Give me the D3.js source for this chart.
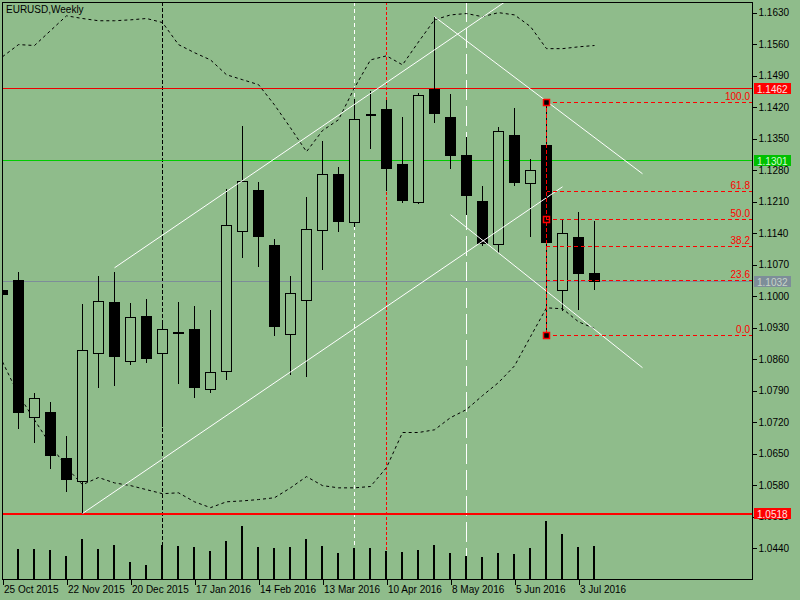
<!DOCTYPE html>
<html><head><meta charset="utf-8">
<script src="https://cdn.jsdelivr.net/npm/d3@7"></script>
<style>html,body{margin:0;padding:0;background:#8FBC8B;} svg{display:block;}</style>
</head><body>
<svg id="c" width="800" height="600"></svg>
<script>
// ---------------- DATA ----------------
const symbolTitle = "EURUSD,Weekly";
const dates = ["2015-10-25","2015-11-01","2015-11-08","2015-11-15","2015-11-22","2015-11-29",
  "2015-12-06","2015-12-13","2015-12-20","2015-12-27","2016-01-03","2016-01-10","2016-01-17",
  "2016-01-24","2016-01-31","2016-02-07","2016-02-14","2016-02-21","2016-02-28","2016-03-06",
  "2016-03-13","2016-03-20","2016-03-27","2016-04-03","2016-04-10","2016-04-17","2016-04-24",
  "2016-05-01","2016-05-08","2016-05-15","2016-05-22","2016-05-29","2016-06-05","2016-06-12",
  "2016-06-19","2016-06-26","2016-07-03","2016-07-10"];
const open  = [1.1012,1.1036,1.0730,1.0742,1.0639,1.0589,1.0873,1.0985,1.0854,1.0955,1.0873,1.0919,1.0926,
  1.0793,1.0832,1.1143,1.1236,1.1113,1.0915,1.0991,1.1146,1.1271,1.1164,1.1402,1.1416,1.1292,1.1209,
  1.1460,1.1397,1.1313,1.1211,1.1115,1.1358,1.1250,1.1336,1.1013,1.1130,1.1051];
const high  = [1.1096,1.1053,1.0784,1.0764,1.0689,1.0982,1.1044,1.1053,1.0984,1.0993,1.0947,1.0986,1.0978,
  1.0969,1.1238,1.1378,1.1253,1.1127,1.1044,1.1219,1.1344,1.1286,1.1438,1.1456,1.1435,1.1398,1.1450,
  1.1619,1.1448,1.1352,1.1244,1.1374,1.1418,1.1304,1.1430,1.1170,1.1186,1.1167];
const low   = [1.0897,1.0707,1.0675,1.0616,1.0565,1.0516,1.0797,1.0802,1.0848,1.0852,1.0711,1.0806,1.0776,
  1.0787,1.0815,1.1087,1.1067,1.0912,1.0826,1.0821,1.1059,1.1143,1.1154,1.1328,1.1235,1.1209,1.1206,
  1.1385,1.1284,1.1182,1.1112,1.1098,1.1245,1.1132,1.0913,1.0969,1.0971,1.1016];
const close = [1.1003,1.0741,1.0773,1.0645,1.0593,1.0879,1.0988,1.0867,1.0953,1.0861,1.0926,1.0917,1.0797,
  1.0830,1.1157,1.1256,1.1132,1.0932,1.1006,1.1148,1.1271,1.1167,1.1393,1.1401,1.1283,1.1213,1.1446,
  1.1406,1.1313,1.1223,1.1117,1.1367,1.1252,1.1279,1.1119,1.1139,1.1050,1.1032];
const volume = [31000,30000,30000,29000,23000,40000,30000,34000,17000,14000,34000,33000,32000,28000,38000,
  53000,32000,31000,32000,40000,33000,26000,31000,31000,28000,27000,29000,34000,26000,23000,22000,26000,
  25000,31000,58000,45000,32000,33000];
const bbUpper = [1.1531,1.1558,1.1556,1.1589,1.1622,1.1616,1.1611,1.1611,1.1613,1.1616,1.1607,1.1558,1.1540,
  1.1524,1.1491,1.1480,1.1469,1.1424,1.1373,1.1320,1.1367,1.1391,1.1462,1.1524,1.1533,1.1513,1.1564,
  1.1613,1.1624,1.1627,1.1620,1.1629,1.1624,1.1598,1.1549,1.1549,1.1553,1.1556];
const bbLower = [1.0853,1.0780,1.0724,1.0669,1.0618,1.0580,1.0596,1.0584,1.0578,1.0569,1.0560,1.0562,1.0542,
  1.0529,1.0542,1.0544,1.0547,1.0551,1.0573,1.0598,1.0578,1.0573,1.0573,1.0576,1.0618,1.0696,1.0696,
  1.0702,1.0729,1.0747,1.0778,1.0807,1.0844,1.0909,1.0973,1.0971,1.0942,1.0927];
const priceTicks = [1.1630,1.1560,1.1490,1.1420,1.1350,1.1280,1.1210,1.1140,1.1070,1.1000,1.0930,1.0860,
  1.0790,1.0720,1.0650,1.0580,1.0510,1.0440];
const dateTicks = ["2015-10-25","2015-11-22","2015-12-20","2016-01-17","2016-02-14","2016-03-13",
  "2016-04-10","2016-05-08","2016-06-05","2016-07-03"];
const resistanceLevels = [1.1462];
const supportLevels = [1.0518];
const pivotLevels = [1.1301];
const currentPrice = 1.1032;
const vLineBlack = ["2016-01-03"];
const vLineWhiteShort = ["2016-03-27"];
const vLineRed = ["2016-04-10"];
const vLineWhiteLong = ["2016-05-15"];
const channelBase = [["2015-11-29",1.0516],["2016-06-26",1.1242]];
const channelTop  = [["2015-12-13",1.1062],["2016-06-26",1.1740]];
const downTop     = [["2016-05-01",1.1620],["2016-07-31",1.1271]];
const downBottom  = [["2016-05-08",1.1180],["2016-07-31",1.0840]];
const fibDate = "2016-06-19";
const fibHigh = 1.1430, fibLow = 1.0913;
const fibLevels = [0, 23.6, 38.2, 50, 61.8, 100];

// ---------------- CHART ----------------
const BG = "#8FBC8B";
const parse = d3.utcParse("%Y-%m-%d");
const svg = d3.select("#c");
svg.append("rect").attr("width",800).attr("height",600).attr("fill",BG);

const L = 2, R = 752, T = 2, B = 579;
const t0 = Date.UTC(2015,9,25);
const WEEK = 7*86400000;
const x = d3.scaleUtc().domain([new Date(t0), new Date(t0 + 46.875*WEEK)]).range([L, R]);
const y = d3.scaleLinear().domain([1.1630 - (B-12.2)/4500, 1.1630 + (12.2-T)/4500]).range([B, T]);
const yv = d3.scaleLinear().domain([0, 58000]).range([B, B-58]);

svg.append("defs").append("clipPath").attr("id","plot")
  .append("rect").attr("x",L+1).attr("y",T+1).attr("width",R-L-1).attr("height",B-T-1);
const g = svg.append("g").attr("clip-path","url(#plot)");
const px = d => Math.round(x(parse(d)));
const py = p => Math.round(y(p));

// vertical lines
function vline(arr, color, dash){
  g.selectAll(null).data(arr).enter().append("line")
    .attr("x1",d=>px(d)+0.5).attr("x2",d=>px(d)+0.5).attr("y1",T).attr("y2",B)
    .attr("stroke",color).attr("stroke-width",1).attr("stroke-dasharray",dash)
    .attr("shape-rendering","crispEdges");
}
vline(vLineBlack,"#000","4,2");
vline(vLineWhiteShort,"#fff","4,3");
vline(vLineRed,"#ff0000","3,2");
vline(vLineWhiteLong,"#fff","20,6");

// horizontal lines
function hline(arr, color, w){
  g.selectAll(null).data(arr).enter().append("line")
    .attr("x1",L).attr("x2",R).attr("y1",d=>py(d)+0.5).attr("y2",d=>py(d)+0.5)
    .attr("stroke",color).attr("stroke-width",w).attr("shape-rendering","crispEdges");
}
hline([currentPrice],"#7d8d99",1);
hline(pivotLevels,"#00cc00",1);
hline(resistanceLevels,"#ee0000",1);
hline(supportLevels,"#ff0000",2);

// bands
const bandLine = d3.line().x((d,i)=>px(dates[i])+0.5).y(d=>y(d));
[bbUpper,bbLower].forEach(arr=>{
  g.append("path").attr("d",bandLine(arr)).attr("fill","none")
    .attr("stroke","#000").attr("stroke-width",1).attr("stroke-dasharray","3,3");
});

// volumes
g.selectAll(null).data(volume).enter().append("rect")
  .attr("x",(d,i)=>px(dates[i])-1).attr("width",2)
  .attr("y",d=>Math.round(yv(d))).attr("height",d=>B-Math.round(yv(d)))
  .attr("fill","#000").attr("shape-rendering","crispEdges");

// candles
const cg = g.append("g").attr("shape-rendering","crispEdges");
dates.forEach((d,i)=>{
  const c = px(d);
  const o = open[i], cl = close[i];
  cg.append("line").attr("x1",c+0.5).attr("x2",c+0.5)
    .attr("y1",py(high[i])).attr("y2",py(low[i])+1).attr("stroke","#000");
  const top = py(Math.max(o,cl)), bot = py(Math.min(o,cl));
  if (bot - top < 1) {
    cg.append("rect").attr("x",c-4).attr("y",top-1).attr("width",10).attr("height",2).attr("fill","#000");
  } else {
    cg.append("rect").attr("x",c-4.5).attr("y",top+0.5).attr("width",10).attr("height",bot-top)
      .attr("fill", cl < o ? "#000" : BG).attr("stroke","#000").attr("stroke-width",1);
  }
});

// trend lines
[channelBase,channelTop,downTop,downBottom].forEach(seg=>{
  g.append("line")
    .attr("x1",x(parse(seg[0][0]))+0.5).attr("y1",y(seg[0][1]))
    .attr("x2",x(parse(seg[1][0]))+0.5).attr("y2",y(seg[1][1]))
    .attr("stroke","#fff").attr("stroke-width",1);
});

// fibonacci
const fx = px(fibDate);
const fibG = g.append("g");
fibLevels.forEach(lv=>{
  const p = fibLow + (fibHigh-fibLow)*lv/100;
  const yy = py(p)+0.5;
  fibG.append("line").attr("x1",fx).attr("x2",R).attr("y1",yy).attr("y2",yy)
    .attr("stroke","#ff0000").attr("stroke-dasharray","4,3").attr("shape-rendering","crispEdges");
  fibG.append("text").attr("x",R-2).attr("y",yy-3).attr("text-anchor","end")
    .attr("font-family","Liberation Sans, Arial, sans-serif").attr("font-size",10)
    .attr("fill","#ff0000").text(lv.toFixed(1));
});
fibG.append("line").attr("x1",fx+0.5).attr("x2",fx+0.5).attr("y1",py(fibHigh)).attr("y2",py(fibLow))
  .attr("stroke","#000").attr("shape-rendering","crispEdges");
fibG.append("line").attr("x1",fx+0.5).attr("x2",fx+0.5).attr("y1",py(fibHigh)).attr("y2",py(fibLow))
  .attr("stroke","#ff0000").attr("stroke-dasharray","4,2").attr("shape-rendering","crispEdges");
[fibHigh,fibLow].forEach(p=>{
  fibG.append("rect").attr("x",fx-2.5).attr("y",py(p)-2.5).attr("width",6).attr("height",6)
    .attr("fill","#000").attr("stroke","#ff0000").attr("stroke-width",1.5);
});
fibG.append("rect").attr("x",fx-2.5).attr("y",py((fibHigh+fibLow)/2)-2.5).attr("width",6).attr("height",6)
  .attr("fill","none").attr("stroke","#ff0000").attr("stroke-width",1.5);

// frame
svg.append("rect").attr("x",L+0.5).attr("y",T+0.5).attr("width",R-L).attr("height",B-T)
  .attr("fill","none").attr("stroke","#000").attr("shape-rendering","crispEdges");

// axes
const FONT = "Liberation Sans, Arial, sans-serif";
const ya = svg.append("g").attr("transform",`translate(${R+0.5},0.5)`)
  .call(d3.axisRight(y).tickValues(priceTicks).tickSize(4).tickPadding(2).tickFormat(d3.format(".4f")));
ya.select(".domain").remove();
ya.selectAll("line").attr("stroke","#000").attr("shape-rendering","crispEdges");
ya.selectAll("text").attr("font-family",FONT).attr("font-size",10).attr("fill","#000");

const xa = svg.append("g").attr("transform",`translate(0.5,${B+0.5})`)
  .call(d3.axisBottom(x).tickValues(dateTicks.map(parse)).tickSize(5).tickPadding(1)
    .tickFormat(d3.utcFormat("%-d %b %Y")));
xa.select(".domain").remove();
xa.selectAll("line").attr("stroke","#000").attr("shape-rendering","crispEdges");
xa.selectAll("text").attr("font-family",FONT).attr("font-size",10).attr("fill","#000")
  .attr("text-anchor","start").attr("x",1);

// price labels on axis
function priceBox(p, bg, fg){
  const yy = py(p)+0.5;
  svg.append("rect").attr("x",R+2).attr("y",yy-5.5).attr("width",37).attr("height",11).attr("fill",bg);
  svg.append("text").attr("x",R+5).attr("y",yy+4).attr("font-family",FONT).attr("font-size",10)
    .attr("fill",fg).text(p.toFixed(4));
}
resistanceLevels.forEach(p=>priceBox(p,"#ff0000","#ffe0e0"));
pivotLevels.forEach(p=>priceBox(p,"#00c000","#d0ffd0"));
supportLevels.forEach(p=>priceBox(p,"#ff0000","#ffe0e0"));
priceBox(currentPrice,"#7d8d99","#c8d4c8");

// title
svg.append("text").attr("x",6).attr("y",13).attr("font-family",FONT).attr("font-size",10)
  .attr("fill","#000").text(symbolTitle);
</script>
</body></html>
